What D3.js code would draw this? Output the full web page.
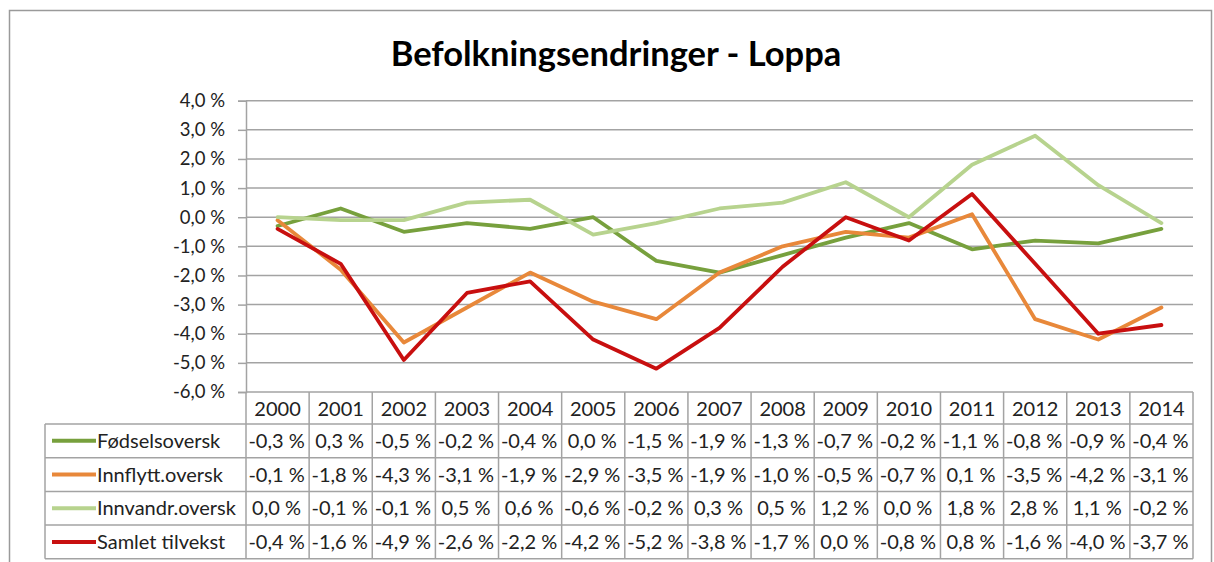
<!DOCTYPE html>
<html>
<head>
<meta charset="utf-8">
<script src="https://cdn.jsdelivr.net/npm/d3@7"></script>
<style>
  html, body { margin: 0; padding: 0; background: #fff; }
  svg { display: block; font-family: Lato, "Open Sans", sans-serif; }
</style>
</head>
<body>
<svg id="chart" width="1214" height="562"></svg>
<script>
const title = "Befolkningsendringer - Loppa";
const years = ["2000","2001","2002","2003","2004","2005","2006","2007","2008","2009","2010","2011","2012","2013","2014"];
const seriesNames = ["Fødselsoversk", "Innflytt.oversk", "Innvandr.oversk", "Samlet tilvekst"];
const fodselsoversk = [-0.3, 0.3, -0.5, -0.2, -0.4, 0.0, -1.5, -1.9, -1.3, -0.7, -0.2, -1.1, -0.8, -0.9, -0.4];
const innflyttoversk = [-0.1, -1.8, -4.3, -3.1, -1.9, -2.9, -3.5, -1.9, -1.0, -0.5, -0.7, 0.1, -3.5, -4.2, -3.1];
const innvandroversk = [0.0, -0.1, -0.1, 0.5, 0.6, -0.6, -0.2, 0.3, 0.5, 1.2, 0.0, 1.8, 2.8, 1.1, -0.2];
const samletTilvekst = [-0.4, -1.6, -4.9, -2.6, -2.2, -4.2, -5.2, -3.8, -1.7, 0.0, -0.8, 0.8, -1.6, -4.0, -3.7];
const yTicks = [4, 3, 2, 1, 0, -1, -2, -3, -4, -5, -6];
const colors = ["#77A03D", "#E8883A", "#B7D38E", "#C80F0F"];

const seriesValues = [fodselsoversk, innflyttoversk, innvandroversk, samletTilvekst];
const fmt = v => v.toFixed(1).replace(".", ",").replace("-0,0", "0,0") + " %";

const svg = d3.select("#chart");
const L = 246, R = 1193, T = 100.7, B = 392;
const rowH = 33.7, headH = 32, tableLeft = 45;
const gridColor = "#A3A3A3";

// outer border
svg.append("rect").attr("x", 9.5).attr("y", 10.5).attr("width", 1202).attr("height", 600)
  .attr("fill", "none").attr("stroke", "#9a9a9a").attr("stroke-width", 1.5);

// title
svg.append("text").attr("x", 616).attr("y", 66).attr("text-anchor", "middle")
  .attr("font-size", 34.5).attr("font-weight", "bold").attr("fill", "#000").text(title);

const x = d3.scaleBand().domain(years).range([L, R]).paddingInner(0).paddingOuter(0);
const y = d3.scaleLinear().domain([-6, 4]).range([B, T]);
const cx = d => x(d) + x.bandwidth() / 2;

// gridlines
svg.append("g").selectAll("line").data(yTicks.filter(t => t > -6)).join("line")
  .attr("x1", L).attr("x2", R).attr("y1", d => y(d)).attr("y2", d => y(d))
  .attr("stroke", gridColor).attr("stroke-width", 1.5);

// y axis
const yAxis = d3.axisLeft(y).tickValues(yTicks).tickSize(8).tickPadding(13).tickFormat(d => fmt(d));
const gy = svg.append("g").attr("transform", `translate(${L},0)`).call(yAxis);
gy.select(".domain").attr("stroke", gridColor).attr("stroke-width", 1.5);
gy.selectAll(".tick line").attr("stroke", gridColor).attr("stroke-width", 1.5);
gy.selectAll(".tick text").attr("font-size", 18.5).attr("fill", "#222").attr("font-family", "Lato, sans-serif");

// bottom axis line (-6 %)
svg.append("line").attr("x1", L).attr("x2", R).attr("y1", B).attr("y2", B)
  .attr("stroke", gridColor).attr("stroke-width", 1.5);

// series lines
const line = d3.line().x((d, i) => cx(years[i])).y(d => y(d));
seriesValues.forEach((vals, si) => {
  svg.append("path").datum(vals).attr("d", line).attr("fill", "none")
    .attr("stroke", colors[si]).attr("stroke-width", 3.8)
    .attr("stroke-linejoin", "round").attr("stroke-linecap", "round");
});

// data table
const tableTop = B;
const rowsTop = tableTop + headH;
const tableBottom = rowsTop + rowH * seriesNames.length;
const tg = svg.append("g");
// header years
tg.selectAll("text.yr").data(years).join("text").attr("class", "yr")
  .attr("x", d => cx(d)).attr("y", tableTop + 24).attr("text-anchor", "middle")
  .attr("font-size", 20).attr("fill", "#222").text(d => d);
// horizontal lines
for (let i = 0; i <= seriesNames.length; i++) {
  tg.append("line").attr("x1", tableLeft).attr("x2", R)
    .attr("y1", rowsTop + i * rowH).attr("y2", rowsTop + i * rowH)
    .attr("stroke", gridColor).attr("stroke-width", 1.5);
}
// vertical lines
tg.append("line").attr("x1", tableLeft).attr("x2", tableLeft).attr("y1", rowsTop).attr("y2", tableBottom)
  .attr("stroke", gridColor).attr("stroke-width", 1.5);
tg.append("line").attr("x1", L).attr("x2", L).attr("y1", B).attr("y2", tableBottom)
  .attr("stroke", gridColor).attr("stroke-width", 1.5);
years.forEach(yr => {
  const xr = x(yr) + x.bandwidth();
  tg.append("line").attr("x1", xr).attr("x2", xr).attr("y1", tableTop).attr("y2", tableBottom)
    .attr("stroke", gridColor).attr("stroke-width", 1.5);
});
// rows
seriesNames.forEach((name, si) => {
  const cy = rowsTop + rowH * si + rowH / 2;
  tg.append("line").attr("x1", 52).attr("x2", 96).attr("y1", cy).attr("y2", cy)
    .attr("stroke", colors[si]).attr("stroke-width", 4);
  tg.append("text").attr("x", 97).attr("y", cy + 7).attr("font-size", 20).attr("fill", "#222").text(name);
  tg.selectAll(null).data(seriesValues[si]).join("text")
    .attr("x", (d, i) => cx(years[i]) - 1).attr("y", cy + 7).attr("text-anchor", "middle")
    .attr("font-size", 20).attr("fill", "#222").text(d => fmt(d));
});
</script>
</body>
</html>
